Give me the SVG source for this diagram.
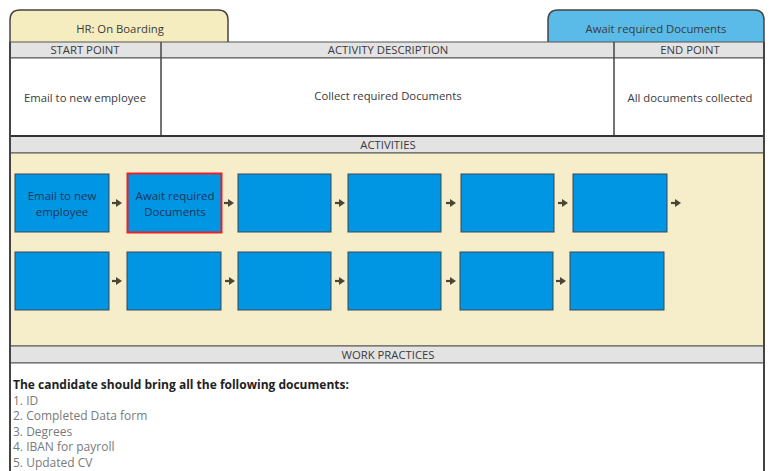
<svg xmlns="http://www.w3.org/2000/svg" width="773" height="471" viewBox="0 0 773 471">
<style>
text{font-family:"Open Sans","Noto Sans","Liberation Sans",sans-serif;font-size:11.3px;fill:#3a3a3a;text-anchor:middle}
.hdr{fill:#e3e3e3;stroke:#555;stroke-width:1}
.box{fill:#0096e4;stroke:#3c4650;stroke-width:1}
.bt{fill:#1c3556;font-size:11.5px}
.ln{stroke:#444;stroke-width:1.5;fill:none}
.arr{stroke:#4a4535;stroke-width:2.2;fill:none;marker-end:url(#ah)}
.lst{text-anchor:start;fill:#7a7a7a;font-size:12px}
</style>
<defs>
<marker id="ah" markerWidth="8" markerHeight="8" refX="3" refY="4" orient="auto" markerUnits="userSpaceOnUse">
<path d="M0,0 L6,4 L0,8 Z" fill="#4a4535"/>
</marker>
</defs>
<rect width="773" height="471" fill="#ffffff"/>
<g id="tab-left">
<path d="M10,42 V20 Q10,10 20,10 H218 Q228,10 228,20 V42" fill="#f5edbf" stroke="#444" stroke-width="1.5"/>
<text x="120" y="33">HR: On Boarding</text>
</g>
<g id="tab-right">
<path d="M548,42 V20 Q548,10 558,10 H754 Q764,10 764,20 V42" fill="#5abbe8" stroke="#444" stroke-width="1.5"/>
<text x="656" y="33" fill="#1c3556">Await required Documents</text>
</g>
<g id="header">
<rect x="10" y="42" width="754" height="16" class="hdr"/>
<rect x="10" y="58" width="754" height="78" fill="#ffffff" stroke="#555" stroke-width="1"/>
<line x1="161" y1="42" x2="161" y2="136" class="ln"/>
<line x1="614" y1="42" x2="614" y2="136" class="ln"/>
<text x="85" y="54">START POINT</text>
<text x="388" y="54">ACTIVITY DESCRIPTION</text>
<text x="690" y="54">END POINT</text>
<text x="85" y="102">Email to new employee</text>
<text x="388" y="100">Collect required Documents</text>
<text x="690" y="102">All documents collected</text>
</g>
<g id="activities-frame">
<rect x="10" y="136" width="754" height="17" class="hdr"/>
<text x="388" y="149">ACTIVITIES</text>
<rect x="10" y="153" width="754" height="193" fill="#f6eecb" stroke="#555" stroke-width="1"/>
</g>
<g id="work-practices">
<rect x="10" y="346" width="754" height="17" class="hdr"/>
<text x="388" y="359">WORK PRACTICES</text>
<rect x="10" y="363" width="754" height="115" fill="#ffffff" stroke="#555" stroke-width="1"/>
<text x="13" y="389" style="text-anchor:start;font-weight:bold;fill:#222;font-size:12px">The candidate should bring all the following documents:</text>
<text x="13" y="404.5" class="lst">1.  ID</text>
<text x="13" y="420" class="lst">2. Completed Data form</text>
<text x="13" y="435.5" class="lst">3. Degrees</text>
<text x="13" y="451" class="lst">4. IBAN for payroll</text>
<text x="13" y="466.5" class="lst">5. Updated CV</text>
</g>
<line x1="10" y1="136" x2="764" y2="136" stroke="#333" stroke-width="2"/>
<line x1="10" y1="42" x2="10" y2="471" stroke="#444" stroke-width="2"/>
<line x1="764" y1="42" x2="764" y2="471" stroke="#444" stroke-width="2"/>
<g id="a1"><rect x="15" y="174" width="94" height="58" class="box"/><text x="62" y="200" class="bt">Email to new</text><text x="62" y="216" class="bt">employee</text></g>
<g id="a2"><rect x="127.5" y="173.5" width="94" height="59" class="box" style="stroke:#e8202a;stroke-width:2"/><text x="175" y="200" class="bt">Await required</text><text x="175" y="216" class="bt">Documents</text></g>
<g id="a3"><rect x="238" y="174" width="93" height="58" class="box"/></g>
<g id="a4"><rect x="348" y="174" width="93" height="58" class="box"/></g>
<g id="a5"><rect x="461" y="174" width="93" height="58" class="box"/></g>
<g id="a6"><rect x="573" y="174" width="94" height="58" class="box"/></g>
<g id="b1"><rect x="15" y="252" width="94" height="58" class="box"/></g>
<g id="b2"><rect x="127" y="252" width="94" height="58" class="box"/></g>
<g id="b3"><rect x="238" y="252" width="93" height="58" class="box"/></g>
<g id="b4"><rect x="348" y="252" width="93" height="58" class="box"/></g>
<g id="b5"><rect x="460" y="252" width="93" height="58" class="box"/></g>
<g id="b6"><rect x="570" y="252" width="94" height="58" class="box"/></g>
<g id="connectors">
<line x1="112" y1="203" x2="119" y2="203" class="arr"/>
<line x1="224" y1="203" x2="231" y2="203" class="arr"/>
<line x1="335" y1="203" x2="342" y2="203" class="arr"/>
<line x1="446" y1="203" x2="453" y2="203" class="arr"/>
<line x1="558" y1="203" x2="565" y2="203" class="arr"/>
<line x1="671" y1="203" x2="678" y2="203" class="arr"/>
<line x1="112" y1="281" x2="119" y2="281" class="arr"/>
<line x1="225" y1="281" x2="232" y2="281" class="arr"/>
<line x1="335" y1="281" x2="342" y2="281" class="arr"/>
<line x1="446" y1="281" x2="453" y2="281" class="arr"/>
<line x1="556" y1="281" x2="563" y2="281" class="arr"/>
</g>
</svg>
